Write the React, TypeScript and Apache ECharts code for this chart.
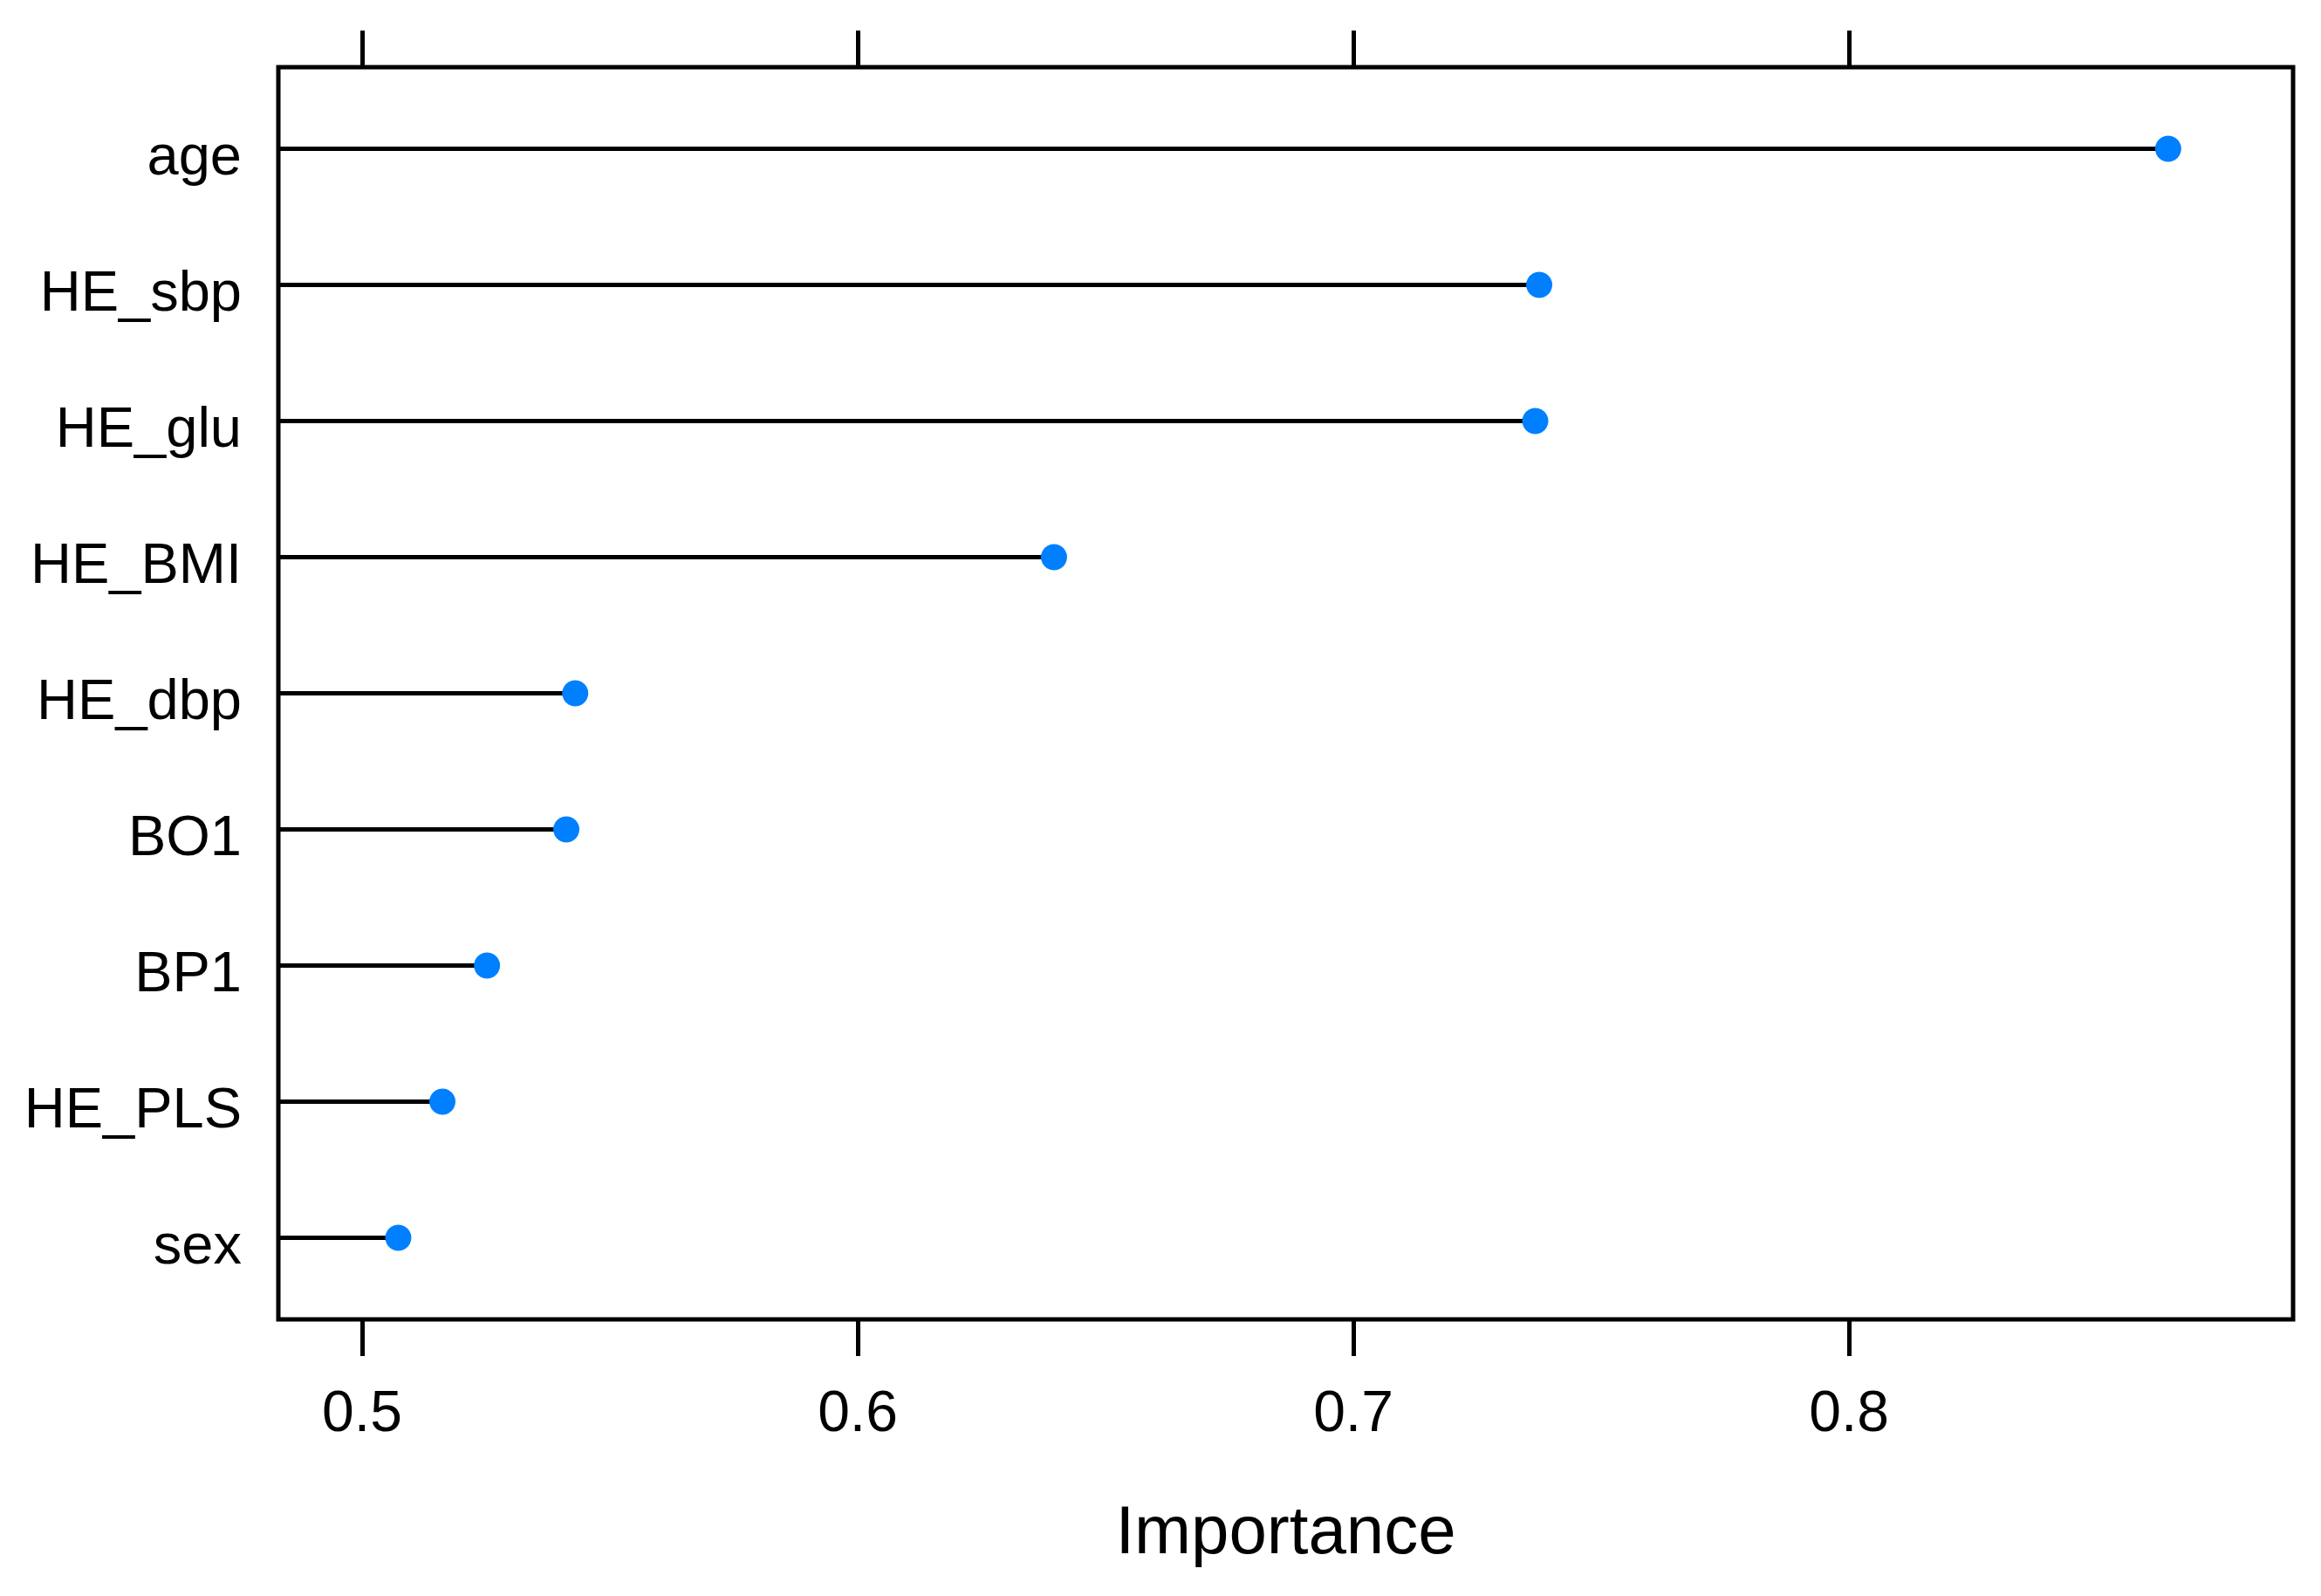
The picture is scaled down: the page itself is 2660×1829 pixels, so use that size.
import React, { useEffect, useRef } from "react";
import * as echarts from "echarts";

const CATEGORIES = ["age", "HE_sbp", "HE_glu", "HE_BMI", "HE_dbp", "BO1", "BP1", "HE_PLS", "sex"];
const IMPORTANCE = [0.8644, 0.7375, 0.7367, 0.6396, 0.543, 0.5412, 0.5252, 0.5162, 0.5073];
const X_TICKS = [0.5, 0.6, 0.7, 0.8];
const X_MIN = 0.4831;
const X_MAX = 0.8896;
const Y_POSITIONS = [1, 2, 3, 4, 5, 6, 7, 8, 9];
const X_NAME = "Importance";

const FONT = "'Liberation Sans', Arial, sans-serif";

export default function App() {
  const ref = useRef<HTMLDivElement>(null);
  useEffect(() => {
    if (!ref.current) return;
    const chart = echarts.init(ref.current, null, { renderer: "svg" });
    const points = IMPORTANCE.map((v, i) => [v, Y_POSITIONS[i]]);
    chart.setOption({
      animation: false,
      backgroundColor: "#ffffff",
      textStyle: { fontFamily: FONT, color: "#000" },
      grid: {
        left: 319,
        top: 77,
        width: 2309,
        height: 1435,
        show: true,
        borderColor: "#000",
        borderWidth: 5,
        backgroundColor: "#ffffff",
      },
      xAxis: [
        {
          type: "value",
          position: "bottom",
          min: X_MIN,
          max: X_MAX,
          name: X_NAME,
          nameLocation: "middle",
          nameGap: 202,
          nameTextStyle: { fontSize: 78, color: "#000", fontFamily: FONT },
          axisLine: { show: false },
          splitLine: { show: false },
          axisTick: {
            show: true,
            inside: false,
            length: 42,
            customValues: X_TICKS,
            lineStyle: { color: "#000", width: 5 },
          },
          axisLabel: {
            show: true,
            customValues: X_TICKS,
            margin: 72,
            fontSize: 66,
            color: "#000",
            fontFamily: FONT,
            formatter: (v: number) => v.toFixed(1),
          },
        },
        {
          type: "value",
          position: "top",
          min: X_MIN,
          max: X_MAX,
          axisLine: { show: false },
          splitLine: { show: false },
          axisTick: {
            show: true,
            inside: false,
            length: 42,
            customValues: X_TICKS,
            lineStyle: { color: "#000", width: 5 },
          },
          axisLabel: { show: false },
        },
      ],
      yAxis: {
        type: "value",
        min: 0.4,
        max: 9.6,
        inverse: true,
        axisLine: { show: false },
        axisTick: { show: false },
        splitLine: { show: false },
        axisLabel: {
          show: true,
          customValues: Y_POSITIONS,
          margin: 42,
          fontSize: 65,
          color: "#000",
          fontFamily: FONT,
          formatter: (v: number) => "{c|" + (CATEGORIES[Math.round(v) - 1] ?? "") + "}",
          rich: {
            c: {
              fontSize: 65,
              color: "#000",
              fontFamily: FONT,
              padding: [14, 0, 0, 0],
            },
          },
        },
      },
      series: [
        {
          type: "custom",
          xAxisIndex: 0,
          yAxisIndex: 0,
          data: points,
          renderItem: (params: any, api: any) => {
            const v = api.value(0);
            const y = api.value(1);
            const p0 = api.coord([X_MIN, y]);
            const p1 = api.coord([v, y]);
            return {
              type: "line",
              shape: { x1: p0[0], y1: p0[1], x2: p1[0], y2: p1[1] },
              style: { stroke: "#000", lineWidth: 5 },
            };
          },
          z: 2,
        },
        {
          type: "scatter",
          xAxisIndex: 0,
          yAxisIndex: 0,
          data: points,
          symbol: "circle",
          symbolSize: 30,
          itemStyle: { color: "#0080FF", opacity: 1 },
          z: 3,
        },
      ],
    });
    return () => chart.dispose();
  }, []);
  return (
    <div
      ref={ref}
      style={{ position: "fixed", left: 0, top: 0, width: 2660, height: 1829, background: "#fff" }}
    />
  );
}
